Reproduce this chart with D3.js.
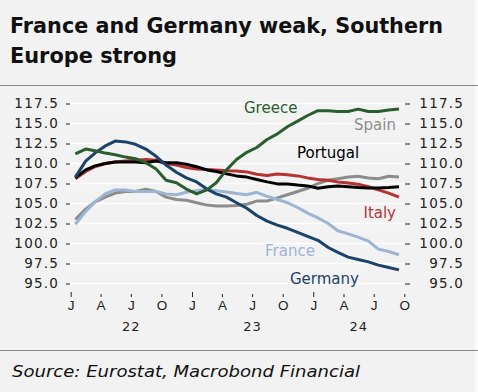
<!DOCTYPE html>
<html><head><meta charset="utf-8">
<script src="https://cdn.jsdelivr.net/npm/d3@7"></script>
<style>
html,body{margin:0;padding:0;background:#f2f2f2;}
svg{display:block;}
</style></head>
<body>
<script>
// ---- data (monthly, Jan 2022 – Sep 2024) ----
const startMonth = "2022-01";
const germany  = [108.3,110.3,111.3,112.2,112.8,112.7,112.4,111.8,110.9,109.8,108.9,108.2,107.7,106.8,106.2,105.8,105.1,104.4,103.5,102.8,102.3,101.9,101.4,100.9,100.4,99.5,98.9,98.3,98.0,97.7,97.3,97.0,96.7];
const greece   = [111.2,111.8,111.6,111.3,111.1,110.8,110.6,110.1,109.3,107.9,107.6,106.8,106.2,106.7,107.6,109.2,110.5,111.4,112.0,113.0,113.7,114.6,115.3,116.0,116.6,116.6,116.5,116.5,116.8,116.5,116.5,116.7,116.8];
const italy    = [108.1,109.0,109.6,110.0,110.2,110.3,110.4,110.5,110.4,110.0,109.8,109.5,109.3,109.25,109.2,109.1,109.05,108.95,108.65,108.5,108.7,108.6,108.45,108.2,108.0,107.9,107.7,107.55,107.4,107.1,106.7,106.3,105.8];
const portugal = [108.2,109.2,109.7,110.0,110.2,110.2,110.2,110.1,110.3,110.1,110.1,109.9,109.6,109.2,109.0,108.7,108.45,108.3,108.0,107.7,107.45,107.45,107.3,107.2,106.9,107.1,107.2,107.1,107.0,106.95,106.95,107.0,107.1];
const spain    = [103.0,104.3,105.2,105.8,106.3,106.5,106.5,106.8,106.5,105.8,105.5,105.4,105.1,104.8,104.7,104.7,104.75,104.9,105.3,105.3,105.7,106.1,106.5,106.9,107.5,107.9,108.1,108.3,108.4,108.2,108.1,108.4,108.3];
const france   = [102.4,104.0,105.2,106.2,106.7,106.7,106.5,106.5,106.5,106.2,106.1,106.4,106.6,106.75,106.6,106.45,106.25,106.1,106.4,105.9,105.5,105.1,104.5,103.8,103.2,102.5,101.6,101.2,100.8,100.3,99.3,99.0,98.6];
const yTicks = [95,97.5,100,102.5,105,107.5,110,112.5,115,117.5];
const monthLetters = ["J","A","J","O"];
const yearLabels = ["22","23","24"];
const title = ["France and Germany weak, Southern","Europe strong"];
const source = "Source: Eurostat, Macrobond Financial";

const seriesList = [
  {name:"Spain",    values:spain,    color:"#8c8c8c", lx:396, ly:130, anchor:"end"},
  {name:"France",   values:france,   color:"#9db4d3", lx:265, ly:256, anchor:"start"},
  {name:"Italy",    values:italy,    color:"#b83232", lx:396, ly:218, anchor:"end"},
  {name:"Portugal", values:portugal, color:"#000000", lx:297, ly:158, anchor:"start"},
  {name:"Germany",  values:germany,  color:"#1b4369", lx:290, ly:284, anchor:"start"},
  {name:"Greece",   values:greece,   color:"#2b5e2f", lx:244, ly:113, anchor:"start"}
];

const W = 478, H = 392;
const svg = d3.select("body").append("svg").attr("width",W).attr("height",H);
svg.append("rect").attr("width",W).attr("height",H).attr("fill","#f2f2f2");
svg.append("rect").attr("x",475).attr("width",3).attr("height",H).attr("fill","#fbfbfb");

const font = "'DejaVu Sans', sans-serif";

// title
svg.append("text").attr("x",10).attr("y",33).text(title[0])
  .attr("font-family",font).attr("font-weight","bold").attr("font-size",20.5).attr("fill","#111")
  .attr("textLength",433).attr("lengthAdjust","spacingAndGlyphs");
svg.append("text").attr("x",10).attr("y",63).text(title[1])
  .attr("font-family",font).attr("font-weight","bold").attr("font-size",20.5).attr("fill","#111")
  .attr("textLength",167).attr("lengthAdjust","spacingAndGlyphs");

// rules
svg.append("line").attr("x1",0).attr("x2",W).attr("y1",85.5).attr("y2",85.5).attr("stroke","#8a8a8a").attr("stroke-width",1.2);
svg.append("line").attr("x1",0).attr("x2",W).attr("y1",350.5).attr("y2",350.5).attr("stroke","#8a8a8a").attr("stroke-width",1.2);

// source
svg.append("text").attr("x",12).attr("y",377).text(source)
  .attr("font-family",font).attr("font-style","italic").attr("font-size",16).attr("fill","#111")
  .attr("textLength",348).attr("lengthAdjust","spacingAndGlyphs");

// scales
const parse = d3.timeParse("%Y-%m");
const t0 = parse(startMonth);
const dates = germany.map((d,i)=> d3.timeDay.offset(d3.timeMonth.offset(t0,i),14));
const x = d3.scaleTime().domain([new Date(2022,0,1), new Date(2024,9,1)]).range([70.7,404.3]);
const y = d3.scaleLinear().domain([95,117.5]).range([283.5,103.5]);

// gridlines
svg.append("g").selectAll("line").data(yTicks).join("line")
  .attr("x1",70).attr("x2",405).attr("y1",d=>y(d)).attr("y2",d=>y(d))
  .attr("stroke","#ffffff").attr("stroke-width",1.5);

// y axes
const fmt = d3.format(".1f");
const yl = svg.append("g").attr("transform","translate(70,0)")
  .call(d3.axisLeft(y).tickValues(yTicks).tickFormat(fmt).tickSize(4).tickPadding(7));
const yr = svg.append("g").attr("transform","translate(405,0)")
  .call(d3.axisRight(y).tickValues(yTicks).tickFormat(fmt).tickSize(5).tickPadding(7));
yr.selectAll("text").attr("text-anchor","end").attr("x",59);
[yl,yr].forEach(g=>{
  g.select(".domain").remove();
  g.selectAll("line").attr("stroke","#222").attr("stroke-width",1);
  g.selectAll("text").attr("font-family",font).attr("font-size",13.5).attr("fill","#222")
    .attr("letter-spacing","1.2px");
});

// x axis
const qTicks = d3.timeMonth.every(3).range(new Date(2022,0,1), new Date(2024,9,2));
const xa = svg.append("g").attr("transform","translate(0,291)")
  .call(d3.axisBottom(x).tickValues(qTicks).tickFormat((d,i)=>monthLetters[i%4]).tickSize(0).tickPadding(0));
xa.select(".domain").remove();
xa.selectAll(".tick line").attr("y1",d=>d.getMonth()===0?1:3).attr("y2",6).attr("stroke","#222").attr("stroke-width",1);
xa.selectAll(".tick text").attr("y",19).attr("dy",0).attr("font-family","'Liberation Sans', sans-serif").attr("font-size",13.5).attr("fill","#222");

// year labels centered over visible year span
const yearSpans = [[new Date(2022,0,1),new Date(2023,0,1)],[new Date(2023,0,1),new Date(2024,0,1)],[new Date(2024,0,1),new Date(2024,9,1)]];
svg.append("g").selectAll("text").data(yearLabels).join("text")
  .attr("x",(d,i)=>(x(yearSpans[i][0])+x(yearSpans[i][1]))/2).attr("y",331)
  .attr("text-anchor","middle").text(d=>d)
  .attr("font-family",font).attr("font-size",13).attr("fill","#222").attr("letter-spacing","1px");

// lines
const line = d3.line().x((d,i)=>x(dates[i])).y(d=>y(d));
svg.append("g").selectAll("path").data(seriesList).join("path")
  .attr("d",d=>line(d.values)).attr("fill","none").attr("stroke",d=>d.color)
  .attr("stroke-width",3).attr("stroke-linejoin","round").attr("stroke-linecap","butt");

// series labels
svg.append("g").selectAll("text").data(seriesList).join("text")
  .attr("x",d=>d.lx).attr("y",d=>d.ly).attr("text-anchor",d=>d.anchor).text(d=>d.name)
  .attr("font-family",font).attr("font-size",15).attr("fill",d=>d.color);
</script>
</body></html>
